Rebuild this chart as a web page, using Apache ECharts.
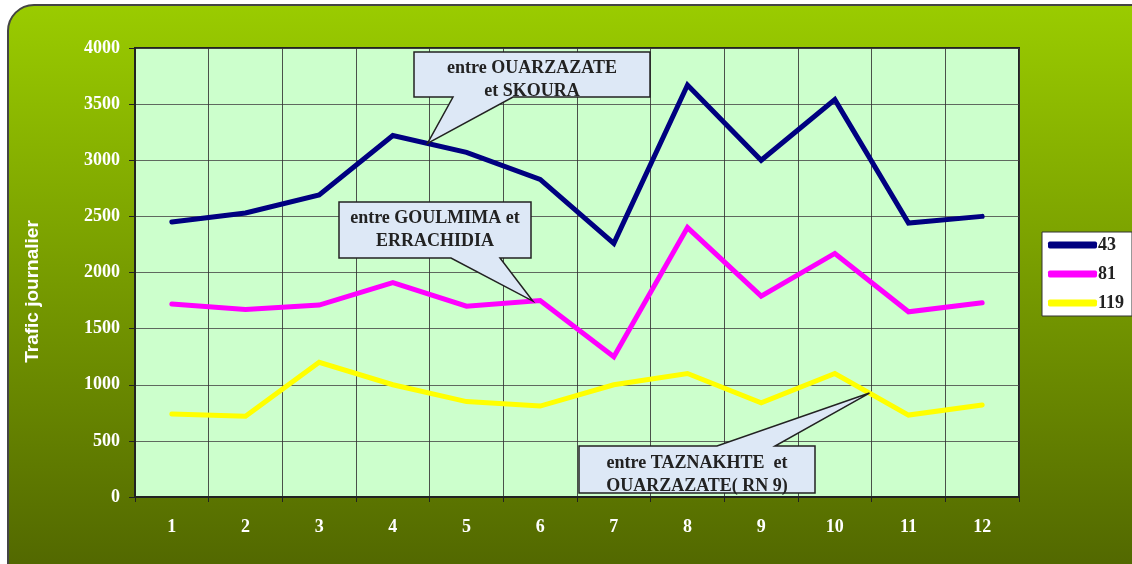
<!DOCTYPE html>
<html>
<head>
<meta charset="utf-8">
<script src="https://cdn.jsdelivr.net/npm/echarts@6/dist/echarts.min.js"></script>
<style>
  html, body { margin: 0; padding: 0; background: #ffffff; }
  #chart { width: 1132px; height: 564px; }
</style>
</head>
<body>
<div id="chart"></div>
<script>
// Monthly daily traffic on three road sections
const months = ['1', '2', '3', '4', '5', '6', '7', '8', '9', '10', '11', '12'];
const route43 = [2450, 2530, 2690, 3220, 3070, 2830, 2260, 3670, 3000, 3540, 2440, 2500];
const route81 = [1720, 1670, 1710, 1910, 1700, 1750, 1250, 2400, 1790, 2170, 1650, 1730];
const route119 = [740, 720, 1200, 1000, 850, 810, 1000, 1100, 840, 1100, 730, 820];
const seriesNames = ['43', '81', '119'];
const seriesColors = ['#000080', '#ff00ff', '#ffff00'];

// Callout notes: text lines, series index, segment start index and fraction along it
const callouts = [
  { lines: ['entre OUARZAZATE', 'et SKOURA'], series: 0, idx: 3, frac: 0.47,
    box: [414, 52, 650, 97], base: [453, 513], textY: [68, 91] },
  { lines: ['entre GOULMIMA et', 'ERRACHIDIA'], series: 1, idx: 4, frac: 0.9,
    box: [339, 202, 531, 258], base: [451, 500], textY: [218, 241] },
  { lines: ['entre TAZNAKHTE  et', 'OUARZAZATE( RN 9)'], series: 2, idx: 9, frac: 0.47,
    box: [579, 446, 815, 493], base: [717, 775], textY: [463, 486] }
];

const chart = echarts.init(document.getElementById('chart'), null, { renderer: 'canvas' });
const serif = '"Liberation Serif", "Times New Roman", serif';
const allData = [route43, route81, route119];

const option = {
  backgroundColor: '#ffffff',
  animation: false,
  grid: {
    left: 135, right: 113, top: 48, bottom: 67,
    show: true, backgroundColor: '#ccffcc', borderColor: '#222222', borderWidth: 2
  },
  legend: {
    orient: 'vertical',
    left: 1042, top: 232,
    backgroundColor: '#ffffff',
    borderColor: '#333333', borderWidth: 1, borderRadius: 0,
    padding: [4, 8, 4, 6],
    itemWidth: 49, itemHeight: 7, itemGap: 11,
    icon: 'roundRect',
    textStyle: { fontFamily: serif, fontWeight: 'bold', fontSize: 18, color: '#222222', lineHeight: 16, padding: [0, 0, 0, -4] },
    data: seriesNames
  },
  xAxis: {
    type: 'category',
    data: months,
    boundaryGap: true,
    axisLine: { lineStyle: { color: '#222222', width: 2 } },
    axisTick: { show: true, inside: false, length: 5, lineStyle: { color: '#222222' } },
    splitLine: { show: true, lineStyle: { color: '#333333', width: 1, opacity: 0.85 } },
    axisLabel: { color: '#ffffff', fontFamily: serif, fontWeight: 'bold', fontSize: 18, margin: 21 }
  },
  yAxis: {
    type: 'value',
    min: 0, max: 4000, interval: 500,
    name: 'Trafic journalier',
    nameLocation: 'middle',
    nameRotate: 90,
    nameGap: 93,
    nameTextStyle: {
      color: '#ffffff', fontFamily: '"Liberation Sans", Arial, sans-serif', fontWeight: 'bold', fontSize: 19,
      padding: [0, 38, 0, 0]
    },
    axisLine: { show: true, lineStyle: { color: '#222222', width: 2 } },
    axisTick: { show: true, inside: false, length: 6, lineStyle: { color: '#222222' } },
    splitLine: { show: true, lineStyle: { color: '#444444', width: 1, opacity: 0.8 } },
    axisLabel: {
      color: '#ffffff', fontFamily: serif, fontWeight: 'bold', fontSize: 18, margin: 15,
      formatter: v => String(v)
    }
  },
  graphic: [{
    type: 'rect', z: -10, silent: true,
    shape: { x: 8, y: 5, width: 1200, height: 640, r: 26 },
    style: {
      fill: new echarts.graphic.LinearGradient(0, 0, 0, 1, [
        { offset: 0, color: '#9acc00' },
        { offset: 1, color: '#485a00' }
      ]),
      stroke: '#444444', lineWidth: 2
    }
  }],
  series: seriesNames.map((name, i) => ({
    name: name,
    type: 'line',
    data: allData[i],
    symbol: 'none',
    color: seriesColors[i],
    lineStyle: { width: 5, color: seriesColors[i], cap: 'round', join: 'miter' },
    z: 3
  }))
};

chart.setOption(option);

// Callout boxes with pointers tied to points on the lines
function drawCallouts() {
  const elements = [];
  callouts.forEach((c) => {
    const data = allData[c.series];
    const p0 = chart.convertToPixel({ gridIndex: 0 }, [c.idx, data[c.idx]]);
    const p1 = chart.convertToPixel({ gridIndex: 0 }, [c.idx + 1, data[c.idx + 1]]);
    const tip = [p0[0] + (p1[0] - p0[0]) * c.frac, p0[1] + (p1[1] - p0[1]) * c.frac];
    const [x0, y0, x1, y1] = c.box;
    const pointerBelow = tip[1] > y1;
    let pts;
    if (pointerBelow) {
      pts = [[x0, y0], [x1, y0], [x1, y1], [c.base[1], y1], tip, [c.base[0], y1], [x0, y1]];
    } else {
      pts = [[x0, y0], [c.base[0], y0], tip, [c.base[1], y0], [x1, y0], [x1, y1], [x0, y1]];
    }
    elements.push({
      type: 'polygon', z: 20, silent: true,
      shape: { points: pts },
      style: { fill: '#dde8f6', stroke: '#222222', lineWidth: 1.5, lineJoin: 'miter' }
    });
    c.lines.forEach((t, j) => {
      elements.push({
        type: 'text', z: 21, silent: true,
        style: {
          text: t, x: (x0 + x1) / 2, y: c.textY[j],
          align: 'center', verticalAlign: 'middle',
          fontFamily: serif, fontWeight: 'bold', fontSize: 18, fill: '#222222'
        }
      });
    });
  });
  chart.setOption({ graphic: option.graphic.concat(elements) });
}
drawCallouts();
</script>
</body>
</html>
